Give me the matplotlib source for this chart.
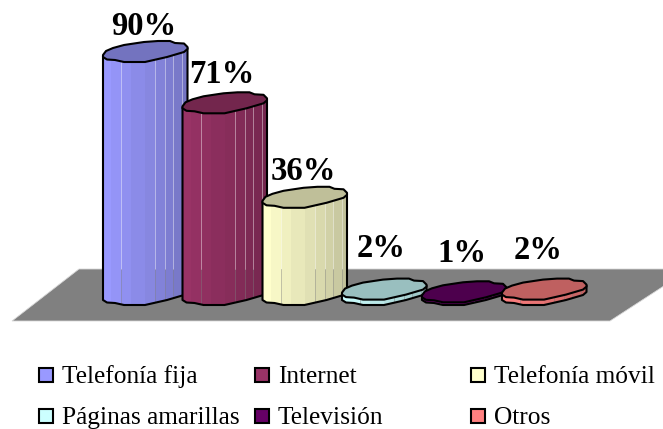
import matplotlib
matplotlib.use("Agg")
import matplotlib.pyplot as plt
from matplotlib.patches import Polygon, Rectangle

plt.rcParams["font.family"] = ["Liberation Serif", "DejaVu Serif"]

# Values
categories = ["Telefonía fija", "Internet", "Telefonía móvil",
              "Páginas amarillas", "Televisión", "Otros"]
values = [90, 71, 36, 2, 1, 2]
labels = ["90%", "71%", "36%", "2%", "1%", "2%"]
colors = ["#9999FF", "#993366", "#FFFFCC", "#CCFFFF", "#660066", "#FF8080"]

# Layout in picture pixels
W, H = 663, 429
BASE_Y = 305
FLOOR_Y = 269
PX_PER_PCT = 2.7
BAR_LEFT = [103, 182.5, 262.5, 342, 422, 502]
LABEL_X = [144, 222, 303, 381, 462, 538]
LABEL_GAP = [7, 10, 8, 22.5, 20, 20.5]

# Outline of the cap, relative to left edge and front-most point
cap_back = [(0, -7), (3, -11), (10, -14), (21, -17), (41, -20), (55, -21), (67, -21),
            (72, -19), (81, -18.5), (84.5, -15)]
cap_front = [(84.5, -13), (81, -10), (64, -5), (42, 0), (21, 0), (12, -2), (4, -2.5), (0, -5)]
strip_x = [0, 8, 18, 28, 42, 52, 62, 70, 79, 85]
strip_shade = [1.0, 0.97, 0.94, 0.91, 0.88, 0.85, 0.82, 0.79, 0.76]
line_x = [18, 52, 62, 70, 79]


def shade(color, k):
    r, g, b = matplotlib.colors.to_rgb(color)
    return (r * k, g * k, b * k)


fig = plt.figure(figsize=(W / 100, H / 100), dpi=100)
ax = fig.add_axes([0, 0, 1, 1])
ax.set_xlim(0, W)
ax.set_ylim(H, 0)
ax.axis("off")

# Grey floor
ax.add_patch(Polygon([(12, 321), (79, FLOOR_Y), (690, FLOOR_Y), (610, 321)],
                     closed=True, fc="#808080", ec="#D8D8D8", lw=0.6, zorder=1))

# Columns, left to right so each one overlaps the previous one
for i, v in enumerate(values):
    x0 = BAR_LEFT[i]
    top = BASE_Y - v * PX_PER_PCT
    z = 2 + i

    body = [(x0 + dx, BASE_Y + dy) for dx, dy in reversed(cap_front)]
    body = body + [(x0 + 84.5, top - 14), (x0, top - 6)]
    clip = Polygon(body, closed=True, transform=ax.transData)

    for j, k in enumerate(strip_shade):
        r = Rectangle((x0 + strip_x[j], top - 25), strip_x[j + 1] - strip_x[j],
                      BASE_Y - top + 30, fc=shade(colors[i], k), ec="none", zorder=z)
        ax.add_patch(r)
        r.set_clip_path(clip)
    for lx in line_x:
        # the thin lines are bright over white and fade where the floor is behind
        ln, = ax.plot([x0 + lx, x0 + lx], [top - 25, FLOOR_Y], color="white",
                      lw=0.6, alpha=0.5, zorder=z)
        ln.set_clip_path(clip)
        ln2, = ax.plot([x0 + lx, x0 + lx], [max(top - 25, FLOOR_Y), BASE_Y + 5], color="#808080",
                       lw=0.6, alpha=0.5, zorder=z)
        ln2.set_clip_path(clip)

    ax.add_patch(Polygon(body, closed=True, fc="none", ec="black", lw=1.5,
                         joinstyle="round", zorder=z))

    cap = [(x0 + dx, top + dy) for dx, dy in cap_back + cap_front]
    ax.add_patch(Polygon(cap, closed=True, fc=shade(colors[i], 0.75), ec="black",
                         lw=1.5, joinstyle="round", zorder=z))

    ax.text(LABEL_X[i], top - 20 - LABEL_GAP[i], labels[i], ha="center", va="baseline",
            fontsize=23.5, fontweight="bold", color="black", zorder=20)

# Legend
legend_x = [38.5, 254.5, 470.5]
legend_y = [367.5, 408.5]
for i, name in enumerate(categories):
    lx = legend_x[i % 3]
    ly = legend_y[i // 3]
    ax.add_patch(Rectangle((lx, ly), 14, 14, fc=colors[i], ec="black", lw=1.5, zorder=20))
    ax.text(lx + 23.5, ly + 15.5, name, ha="left", va="baseline", fontsize=18.3,
            color="black", zorder=20)

fig.savefig("out.png", dpi=100)
